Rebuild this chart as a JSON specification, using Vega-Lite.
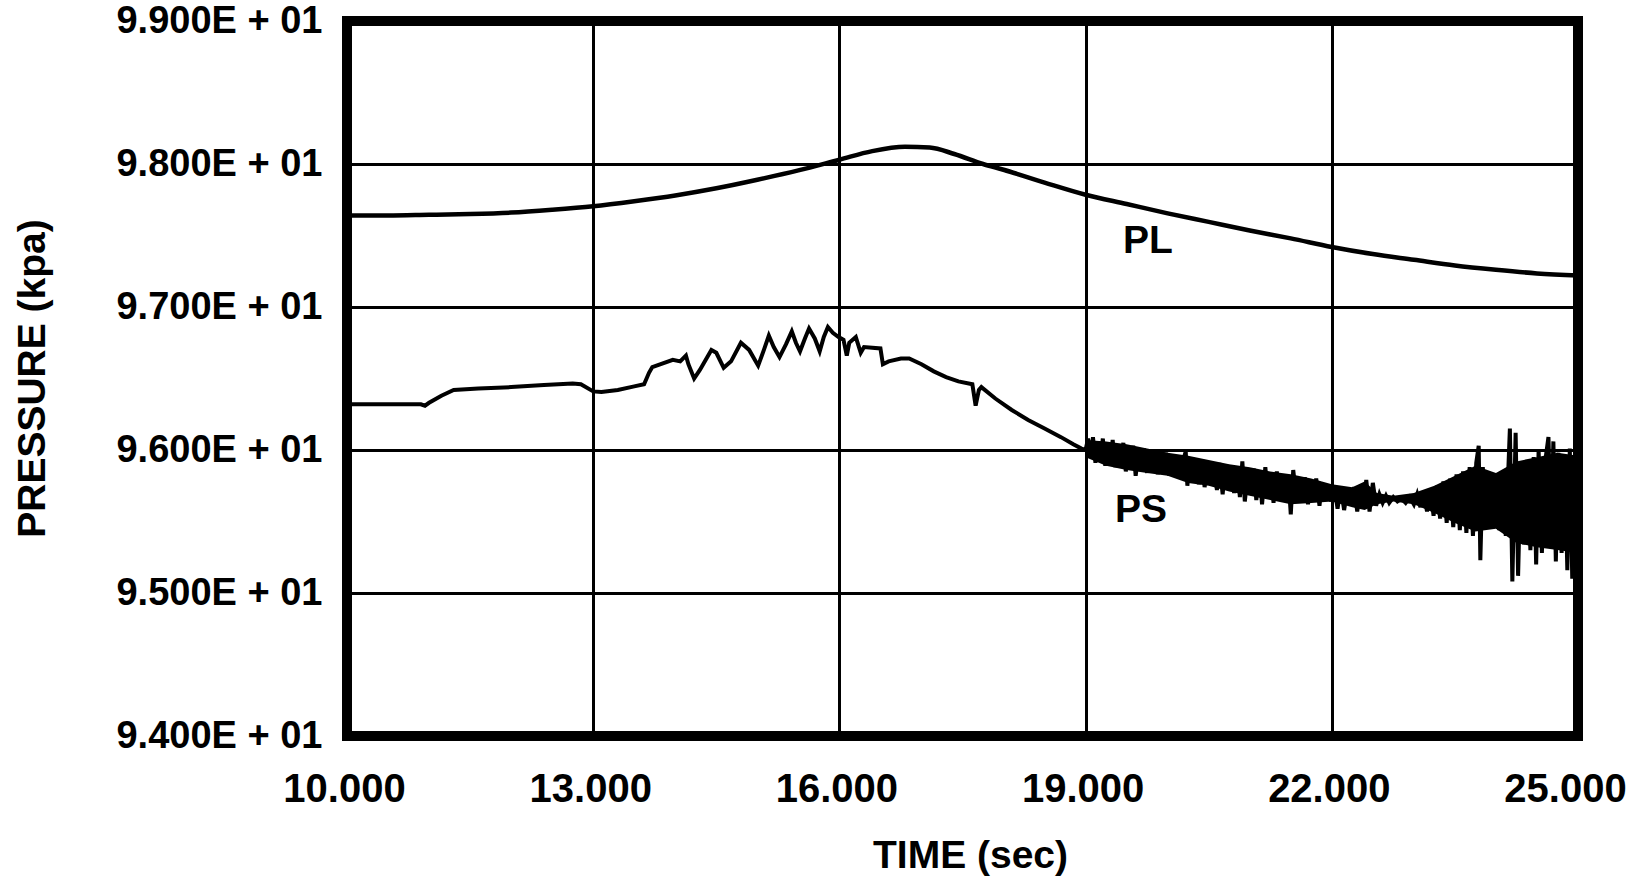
{
  "$schema": "https://vega.github.io/schema/vega-lite/v6.json",
  "autosize": {"type": "none"},
  "padding": {"left": 347, "top": 21, "right": 52, "bottom": 147},
  "width": 1231,
  "height": 715,
  "background": "white",
  "config": {
    "view": {"stroke": "black", "strokeWidth": 10},
    "font": "Liberation Sans"
  },
  "datasets": {
    "pl": [
      {"t": 10.0, "p": 97.64}, {"t": 10.5, "p": 97.64}, {"t": 11.0, "p": 97.645}, {"t": 11.5, "p": 97.65},
      {"t": 12.0, "p": 97.66}, {"t": 12.5, "p": 97.68}, {"t": 13.0, "p": 97.705}, {"t": 13.5, "p": 97.74},
      {"t": 14.0, "p": 97.78}, {"t": 14.5, "p": 97.83}, {"t": 15.0, "p": 97.89}, {"t": 15.5, "p": 97.955},
      {"t": 16.0, "p": 98.03}, {"t": 16.4, "p": 98.09}, {"t": 16.8, "p": 98.12}, {"t": 17.1, "p": 98.115},
      {"t": 17.4, "p": 98.07}, {"t": 17.75, "p": 98.0}, {"t": 18.0, "p": 97.96}, {"t": 18.5, "p": 97.87},
      {"t": 19.0, "p": 97.785}, {"t": 19.5, "p": 97.72}, {"t": 20.0, "p": 97.655}, {"t": 20.5, "p": 97.595},
      {"t": 21.0, "p": 97.535}, {"t": 21.5, "p": 97.48}, {"t": 22.0, "p": 97.42}, {"t": 22.5, "p": 97.37},
      {"t": 23.0, "p": 97.33}, {"t": 23.5, "p": 97.29}, {"t": 24.0, "p": 97.26}, {"t": 24.5, "p": 97.235},
      {"t": 25.0, "p": 97.22}
    ],
    "band": [
      {"t": 19.0, "lo": 95.95, "hi": 96.07}, {"t": 19.25, "lo": 95.89, "hi": 96.06}, {"t": 19.5, "lo": 95.86, "hi": 96.04},
      {"t": 19.75, "lo": 95.84, "hi": 96.01}, {"t": 20.0, "lo": 95.82, "hi": 95.98}, {"t": 20.25, "lo": 95.77, "hi": 95.96},
      {"t": 20.5, "lo": 95.75, "hi": 95.93}, {"t": 20.75, "lo": 95.71, "hi": 95.9}, {"t": 21.0, "lo": 95.68, "hi": 95.88},
      {"t": 21.25, "lo": 95.65, "hi": 95.85}, {"t": 21.5, "lo": 95.62, "hi": 95.83}, {"t": 21.75, "lo": 95.63, "hi": 95.8},
      {"t": 22.0, "lo": 95.64, "hi": 95.76}, {"t": 22.25, "lo": 95.6, "hi": 95.74}, {"t": 22.4, "lo": 95.58, "hi": 95.78},
      {"t": 22.55, "lo": 95.62, "hi": 95.7}, {"t": 22.75, "lo": 95.64, "hi": 95.68}, {"t": 23.0, "lo": 95.62, "hi": 95.7},
      {"t": 23.25, "lo": 95.56, "hi": 95.75}, {"t": 23.5, "lo": 95.49, "hi": 95.82}, {"t": 23.75, "lo": 95.43, "hi": 95.89},
      {"t": 24.0, "lo": 95.45, "hi": 95.84}, {"t": 24.25, "lo": 95.35, "hi": 95.92}, {"t": 24.5, "lo": 95.32, "hi": 95.95},
      {"t": 24.75, "lo": 95.3, "hi": 95.98}, {"t": 25.0, "lo": 95.28, "hi": 95.96}
    ],
    "ps": [
      {"t": 10.0, "p": 96.32}, {"t": 10.5, "p": 96.32}, {"t": 10.9, "p": 96.32}, {"t": 10.95, "p": 96.31},
      {"t": 11.0, "p": 96.33}, {"t": 11.15, "p": 96.38}, {"t": 11.3, "p": 96.42}, {"t": 11.6, "p": 96.43},
      {"t": 12.0, "p": 96.44}, {"t": 12.4, "p": 96.455}, {"t": 12.75, "p": 96.465}, {"t": 12.85, "p": 96.46},
      {"t": 13.0, "p": 96.41}, {"t": 13.1, "p": 96.405}, {"t": 13.3, "p": 96.42}, {"t": 13.5, "p": 96.445},
      {"t": 13.62, "p": 96.46}, {"t": 13.68, "p": 96.54}, {"t": 13.72, "p": 96.58}, {"t": 13.97, "p": 96.63},
      {"t": 14.06, "p": 96.62}, {"t": 14.13, "p": 96.66}, {"t": 14.16, "p": 96.6}, {"t": 14.23, "p": 96.5},
      {"t": 14.3, "p": 96.56}, {"t": 14.44, "p": 96.7}, {"t": 14.5, "p": 96.68}, {"t": 14.59, "p": 96.575},
      {"t": 14.68, "p": 96.62}, {"t": 14.8, "p": 96.75}, {"t": 14.9, "p": 96.7}, {"t": 15.01, "p": 96.59},
      {"t": 15.08, "p": 96.7}, {"t": 15.14, "p": 96.8}, {"t": 15.2, "p": 96.72}, {"t": 15.27, "p": 96.65},
      {"t": 15.35, "p": 96.74}, {"t": 15.42, "p": 96.83}, {"t": 15.47, "p": 96.75}, {"t": 15.52, "p": 96.69},
      {"t": 15.58, "p": 96.78}, {"t": 15.63, "p": 96.85}, {"t": 15.7, "p": 96.78}, {"t": 15.76, "p": 96.69},
      {"t": 15.81, "p": 96.79}, {"t": 15.86, "p": 96.86}, {"t": 15.92, "p": 96.82}, {"t": 15.99, "p": 96.79},
      {"t": 16.05, "p": 96.77}, {"t": 16.09, "p": 96.66}, {"t": 16.12, "p": 96.75}, {"t": 16.2, "p": 96.79},
      {"t": 16.26, "p": 96.68}, {"t": 16.3, "p": 96.72}, {"t": 16.5, "p": 96.71}, {"t": 16.53, "p": 96.6},
      {"t": 16.6, "p": 96.62}, {"t": 16.75, "p": 96.64}, {"t": 16.85, "p": 96.64}, {"t": 17.0, "p": 96.6},
      {"t": 17.15, "p": 96.55}, {"t": 17.3, "p": 96.51}, {"t": 17.45, "p": 96.48}, {"t": 17.62, "p": 96.46},
      {"t": 17.66, "p": 96.31}, {"t": 17.7, "p": 96.42}, {"t": 17.73, "p": 96.44}, {"t": 17.9, "p": 96.36},
      {"t": 18.1, "p": 96.28}, {"t": 18.3, "p": 96.21}, {"t": 18.5, "p": 96.15}, {"t": 18.7, "p": 96.09},
      {"t": 18.85, "p": 96.04}, {"t": 18.95, "p": 96.01},
      {"t": 19.0, "p": 96.0}, {"t": 19.03, "p": 96.08}, {"t": 19.06, "p": 95.95}, {"t": 19.09, "p": 96.09},
      {"t": 19.12, "p": 95.91}, {"t": 19.15, "p": 96.06}, {"t": 19.18, "p": 95.93}, {"t": 19.21, "p": 96.08},
      {"t": 19.24, "p": 95.89}, {"t": 19.27, "p": 96.05}, {"t": 19.3, "p": 95.92}, {"t": 19.33, "p": 96.07},
      {"t": 19.36, "p": 95.88}, {"t": 19.4, "p": 96.03}, {"t": 19.43, "p": 95.9}, {"t": 19.46, "p": 96.05},
      {"t": 19.49, "p": 95.85}, {"t": 19.52, "p": 96.02}, {"t": 19.55, "p": 95.88}, {"t": 19.58, "p": 96.03},
      {"t": 19.61, "p": 95.82}, {"t": 19.65, "p": 96.0}, {"t": 19.68, "p": 95.87}, {"t": 19.71, "p": 96.01},
      {"t": 19.75, "p": 95.84}, {"t": 19.78, "p": 95.99}, {"t": 19.81, "p": 95.86}, {"t": 19.85, "p": 96.0},
      {"t": 19.88, "p": 95.83}, {"t": 19.91, "p": 95.97}, {"t": 19.95, "p": 95.85}, {"t": 19.98, "p": 95.98},
      {"t": 20.02, "p": 95.82}, {"t": 20.05, "p": 95.96}, {"t": 20.08, "p": 95.84}, {"t": 20.12, "p": 95.95},
      {"t": 20.15, "p": 95.8}, {"t": 20.19, "p": 95.93}, {"t": 20.22, "p": 95.99}, {"t": 20.24, "p": 95.75},
      {"t": 20.27, "p": 95.94}, {"t": 20.31, "p": 95.79}, {"t": 20.34, "p": 95.93}, {"t": 20.38, "p": 95.76},
      {"t": 20.42, "p": 95.93}, {"t": 20.45, "p": 95.74}, {"t": 20.49, "p": 95.92}, {"t": 20.52, "p": 95.78},
      {"t": 20.56, "p": 95.9}, {"t": 20.6, "p": 95.72}, {"t": 20.63, "p": 95.91}, {"t": 20.67, "p": 95.69},
      {"t": 20.7, "p": 95.88}, {"t": 20.74, "p": 95.74}, {"t": 20.77, "p": 95.89}, {"t": 20.81, "p": 95.7},
      {"t": 20.85, "p": 95.87}, {"t": 20.88, "p": 95.67}, {"t": 20.91, "p": 95.92}, {"t": 20.94, "p": 95.64},
      {"t": 20.98, "p": 95.86}, {"t": 21.01, "p": 95.72}, {"t": 21.05, "p": 95.87}, {"t": 21.08, "p": 95.65},
      {"t": 21.12, "p": 95.85}, {"t": 21.15, "p": 95.62}, {"t": 21.19, "p": 95.88}, {"t": 21.22, "p": 95.7},
      {"t": 21.26, "p": 95.84}, {"t": 21.29, "p": 95.63}, {"t": 21.33, "p": 95.85}, {"t": 21.36, "p": 95.68},
      {"t": 21.4, "p": 95.83}, {"t": 21.43, "p": 95.64}, {"t": 21.47, "p": 95.82}, {"t": 21.5, "p": 95.55},
      {"t": 21.53, "p": 95.86}, {"t": 21.57, "p": 95.66}, {"t": 21.6, "p": 95.8}, {"t": 21.64, "p": 95.65},
      {"t": 21.67, "p": 95.81}, {"t": 21.71, "p": 95.62}, {"t": 21.74, "p": 95.79}, {"t": 21.78, "p": 95.66},
      {"t": 21.81, "p": 95.8}, {"t": 21.85, "p": 95.61}, {"t": 21.88, "p": 95.77}, {"t": 21.92, "p": 95.66},
      {"t": 21.95, "p": 95.76}, {"t": 21.99, "p": 95.64}, {"t": 22.03, "p": 95.75}, {"t": 22.07, "p": 95.59},
      {"t": 22.11, "p": 95.74}, {"t": 22.15, "p": 95.58}, {"t": 22.19, "p": 95.72}, {"t": 22.23, "p": 95.62},
      {"t": 22.27, "p": 95.74}, {"t": 22.31, "p": 95.57}, {"t": 22.35, "p": 95.73}, {"t": 22.39, "p": 95.6},
      {"t": 22.42, "p": 95.79}, {"t": 22.46, "p": 95.57}, {"t": 22.5, "p": 95.77}, {"t": 22.54, "p": 95.61},
      {"t": 22.58, "p": 95.69}, {"t": 22.62, "p": 95.63}, {"t": 22.66, "p": 95.68}, {"t": 22.7, "p": 95.63},
      {"t": 22.75, "p": 95.67}, {"t": 22.8, "p": 95.64}, {"t": 22.85, "p": 95.66}, {"t": 22.9, "p": 95.63},
      {"t": 22.95, "p": 95.67}, {"t": 23.0, "p": 95.62}, {"t": 23.04, "p": 95.69}, {"t": 23.08, "p": 95.6},
      {"t": 23.12, "p": 95.71}, {"t": 23.16, "p": 95.57}, {"t": 23.2, "p": 95.73}, {"t": 23.24, "p": 95.54},
      {"t": 23.28, "p": 95.75}, {"t": 23.32, "p": 95.52}, {"t": 23.36, "p": 95.78}, {"t": 23.4, "p": 95.49},
      {"t": 23.44, "p": 95.8}, {"t": 23.48, "p": 95.46}, {"t": 23.52, "p": 95.83}, {"t": 23.56, "p": 95.44},
      {"t": 23.6, "p": 95.85}, {"t": 23.64, "p": 95.42}, {"t": 23.68, "p": 95.88}, {"t": 23.72, "p": 95.4},
      {"t": 23.76, "p": 95.91}, {"t": 23.79, "p": 96.03}, {"t": 23.81, "p": 95.23}, {"t": 23.84, "p": 95.88},
      {"t": 23.88, "p": 95.5}, {"t": 23.92, "p": 95.74}, {"t": 23.96, "p": 95.48}, {"t": 24.0, "p": 95.8},
      {"t": 24.04, "p": 95.44}, {"t": 24.08, "p": 95.85}, {"t": 24.12, "p": 95.4}, {"t": 24.17, "p": 96.15},
      {"t": 24.2, "p": 95.08}, {"t": 24.24, "p": 96.12}, {"t": 24.27, "p": 95.12}, {"t": 24.3, "p": 95.82},
      {"t": 24.34, "p": 95.34}, {"t": 24.38, "p": 95.9}, {"t": 24.42, "p": 95.3}, {"t": 24.46, "p": 95.95},
      {"t": 24.49, "p": 95.2}, {"t": 24.52, "p": 96.0}, {"t": 24.56, "p": 95.28}, {"t": 24.6, "p": 95.92},
      {"t": 24.64, "p": 96.09}, {"t": 24.67, "p": 95.38}, {"t": 24.7, "p": 96.06}, {"t": 24.73, "p": 95.22},
      {"t": 24.76, "p": 95.98}, {"t": 24.8, "p": 95.28}, {"t": 24.84, "p": 95.93}, {"t": 24.87, "p": 95.16},
      {"t": 24.9, "p": 96.01}, {"t": 24.93, "p": 95.1}, {"t": 24.96, "p": 95.9}, {"t": 24.99, "p": 95.19}
    ],
    "labels": [
      {"t": 19.76, "p": 97.46, "label": "PL"},
      {"t": 19.675, "p": 95.58, "label": "PS"}
    ]
  },
  "encoding": {
    "x": {
      "field": "t",
      "type": "quantitative",
      "scale": {"domain": [10, 25], "nice": false, "zero": false},
      "axis": {
        "values": [10, 13, 16, 19, 22, 25],
        "format": ".3f",
        "grid": true,
        "gridColor": "black",
        "gridWidth": 3,
        "gridOpacity": 1,
        "domain": false,
        "ticks": false,
        "labelFlush": false,
        "labelOffset": {"condition": {"test": "datum.value == 25", "value": -13}, "value": -3},
        "labelFont": "Liberation Sans",
        "labelFontSize": 40,
        "labelFontWeight": "bold",
        "labelColor": "black",
        "labelPadding": 33,
        "title": "TIME (sec)",
        "titleFont": "Liberation Sans",
        "titleFontSize": 39,
        "titleFontWeight": "bold",
        "titleColor": "black",
        "titleX": 623,
        "titleY": 131,
        "titleAlign": "center",
        "titleBaseline": "alphabetic"
      }
    },
    "y": {
      "field": "p",
      "type": "quantitative",
      "scale": {"domain": [94, 99], "nice": false, "zero": false},
      "axis": {
        "values": [94, 95, 96, 97, 98, 99],
        "labelExpr": "format(datum.value / 10, '.3f') + 'E + 01'",
        "grid": true,
        "gridColor": "black",
        "gridWidth": 3,
        "gridOpacity": 1,
        "domain": false,
        "ticks": false,
        "labelLimit": 0,
        "labelFlush": false,
        "labelFont": "Liberation Sans",
        "labelFontSize": 38,
        "labelFontWeight": "bold",
        "labelColor": "black",
        "labelPadding": 25,
        "title": "PRESSURE (kpa)",
        "titleFont": "Liberation Sans",
        "titleFontSize": 39,
        "titleFontWeight": "bold",
        "titleColor": "black",
        "titleAngle": 270,
        "titleX": -303,
        "titleY": 357,
        "titleAlign": "center",
        "titleBaseline": "alphabetic"
      }
    }
  },
  "layer": [
    {
      "data": {"name": "pl"},
      "mark": {"type": "line", "color": "black", "strokeWidth": 4.5, "interpolate": "monotone"}
    },
    {
      "data": {"name": "band"},
      "mark": {"type": "area", "color": "black", "opacity": 1},
      "encoding": {
        "y": {"field": "lo", "type": "quantitative"},
        "y2": {"field": "hi"}
      }
    },
    {
      "data": {"name": "ps"},
      "mark": {"type": "line", "color": "black", "strokeWidth": 4, "strokeJoin": "miter"}
    },
    {
      "data": {"name": "labels"},
      "mark": {"type": "text", "color": "black", "font": "Liberation Sans", "fontSize": 39, "fontWeight": "bold", "align": "center", "baseline": "middle"},
      "encoding": {"text": {"field": "label", "type": "nominal"}}
    }
  ]
}
